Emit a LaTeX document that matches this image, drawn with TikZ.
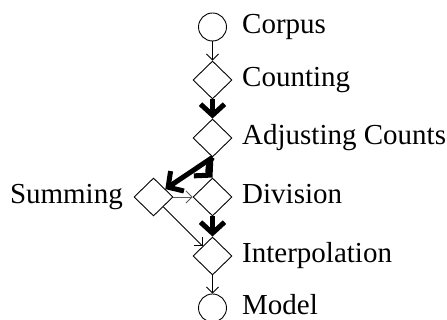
\documentclass[tikz,border=0pt]{standalone}
\usepackage{fontspec}
\setmainfont{Liberation Serif}
\usetikzlibrary{shapes.geometric,arrows.meta}
\begin{document}
\begin{tikzpicture}[x=1pt,y=1pt,
  dia/.style={draw,diamond,minimum width=39pt,minimum height=38pt,inner sep=0pt,line width=0.9pt},
  circ/.style={draw,circle,minimum size=28pt,inner sep=0pt,line width=0.9pt},
  lab/.style={inner sep=0pt,font=\fontsize{29}{34}\selectfont},
  thin/.style={line width=0.9pt,-{Straight Barb[length=6pt,width=12pt]}},
  thickarr/.style={line width=5pt,-{Straight Barb[length=11pt,width=24pt]}}]
\useasboundingbox (0,0) rectangle (447,320);
\node[circ] (corpus) at (212.5,293) {};
\node[dia] (count) at (212.5,240) {};
\node[dia] (adj) at (212.5,182) {};
\node[dia] (div) at (212.5,123) {};
\node[dia] (sum) at (153.5,123) {};
\node[dia] (interp) at (212.5,64) {};
\node[circ] (model) at (212.5,12) {};
\node[lab,anchor=base west] (lcorpus) at (242,286.5) {Corpus};
\node[lab,anchor=base west] (lcount) at (242,233.5) {Counting};
\node[lab,anchor=base west] (ladj) at (242,175.5) {Adjusting Counts};
\node[lab,anchor=base west] (ldiv) at (242,116.5) {Division};
\node[lab,anchor=base east] (lsum) at (123,116.5) {Summing};
\node[lab,anchor=base west] (linterp) at (242,57.5) {Interpolation};
\node[lab,anchor=base west] (lmodel) at (242,5) {Model};
\draw[thin] (corpus) -- (count);
\draw[thickarr] (count) -- (adj);
\draw[thickarr] (adj.south) -- (sum);
\draw[thickarr] (adj.south) to[out=235,in=135] (div.north);
\draw[thin,draw=black!65] (sum) -- (div);
\draw[thin] (sum) -- (interp);
\draw[thickarr] (div) -- (interp);
\draw[thin] (interp) -- (model);
\end{tikzpicture}
\end{document}
